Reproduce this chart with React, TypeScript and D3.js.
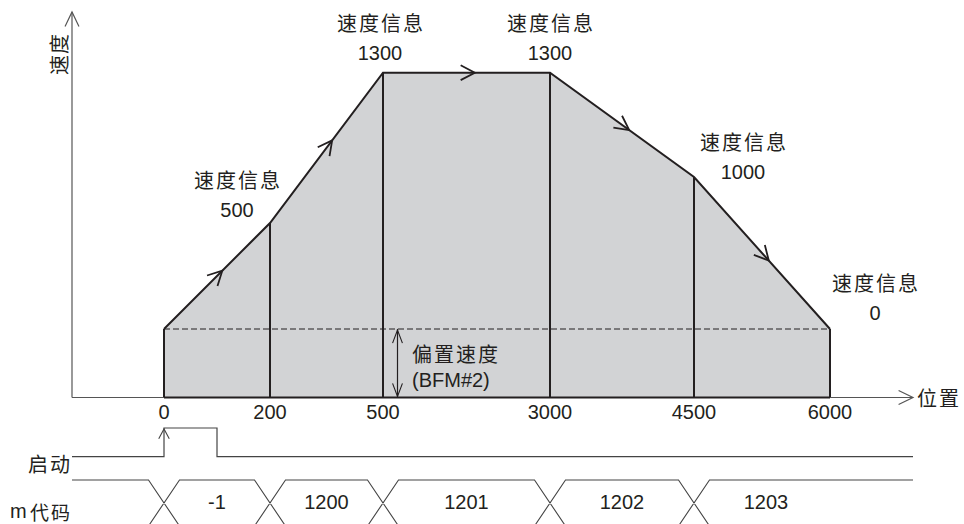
import React from "react";
import * as d3 from "d3";

// ---- data ----
const positions = [0, 200, 500, 3000, 4500, 6000];
const positionLabels = ["0", "200", "500", "3000", "4500", "6000"];
const speedValues = [0, 500, 1300, 1300, 1000, 0];
const speedLabelText = "速度信息";
const speedLabelIdx = [1, 2, 3, 4, 5];
const mCodes = ["-1", "1200", "1201", "1202", "1203"];
const startPulse = [0, 100]; // start pulse width (display)

// ---- layout (scales) ----
const W = 964, H = 524;
const x = d3.scaleLinear().domain(positions).range([164, 270, 383, 550, 694, 830]);
const y = d3.scaleLinear().domain([0, 500, 1000, 1300]).range([329, 223, 177, 72.7]);
const axisX0 = 72, axisY = 397.5, axisYTop = 12, axisXEnd = 913;
// label offsets [dx, dy of number line]
const labelOffsets: [number, number][] = [
  [-33, -13], [-3, 0], [0, 0], [49, -5], [45, -16],
];
const topLabelY = [22, 53];
const lineGap = 31;

const ink = "#231f20";
const cjk = "'Noto Sans CJK SC', 'Noto Sans', sans-serif";
const latin = "'Liberation Sans', Arial, sans-serif";
const numSize = 20;
const cjkSize = 20;
const cjkSpacing = 2;

function chevron(tx: number, ty: number, angle: number, len: number, half: number) {
  const a1 = angle + Math.PI - half, a2 = angle + Math.PI + half;
  return `M${tx + len * Math.cos(a1)},${ty + len * Math.sin(a1)}L${tx},${ty}L${tx + len * Math.cos(a2)},${ty + len * Math.sin(a2)}`;
}

export default function App() {
  const pts = positions.map((p, i) => [x(p), y(speedValues[i])] as [number, number]);
  const area = d3.area<[number, number]>().x(d => d[0]).y0(axisY).y1(d => d[1])(pts) || "";
  const line = d3.line()(pts) || "";
  const biasY = y(0);

  const segArrows = pts.slice(0, -1).map((p, i) => {
    const q = pts[i + 1];
    const t = 0.55;
    const tx = p[0] + (q[0] - p[0]) * t, ty = p[1] + (q[1] - p[1]) * t;
    const ang = Math.atan2(q[1] - p[1], q[0] - p[0]);
    return chevron(tx, ty, ang, 16, 0.48);
  });

  const biasX = 397.5;
  const timingY = 456.7, pulseTop = 428, busTop = 480, busBot = 526, xHalf = 15.5;
  const crossXs = positions.slice(0, 5).map(p => x(p));
  let busPath = `M${axisX0},${busTop}`;
  crossXs.forEach(cx => {
    busPath += `L${cx - xHalf},${busTop}L${cx + xHalf},${busBot}M${cx - xHalf},${busBot}L${cx + xHalf},${busTop}`;
  });
  busPath += `L${axisXEnd},${busTop}`;
  const pulseX1 = 217;

  const cjkText = (props: any, s: string, anchor: string = "middle", size: number = cjkSize) => (
    <text {...props} textAnchor={anchor} dominantBaseline="central" fontFamily={cjk} fontSize={size}
      letterSpacing={cjkSpacing} fill={ink}>{s}</text>
  );

  return (
    <svg width={W} height={H} style={{ position: "absolute", left: 0, top: 0, background: "#fff" }}>
      <path d={area} fill="#d2d3d5" stroke="none" />
      <line x1={x(0)} x2={x(6000)} y1={biasY} y2={biasY} stroke={ink} strokeWidth={1} strokeDasharray="6,3" />
      {pts.map((p, i) => (
        <line key={i} x1={p[0]} x2={p[0]} y1={p[1]} y2={axisY} stroke={ink} strokeWidth={2} />
      ))}
      <path d={line} fill="none" stroke={ink} strokeWidth={2} />
      {segArrows.map((d, i) => <path key={i} d={d} fill="none" stroke={ink} strokeWidth={1.8} />)}

      {/* axes */}
      <line x1={axisX0} x2={axisX0} y1={axisY} y2={axisYTop} stroke="#808080" strokeWidth={1.6} />
      <path d={chevron(axisX0, axisYTop, -Math.PI / 2, 16, 0.45)} fill="none" stroke="#555" strokeWidth={1.2} />
      <line x1={axisX0} x2={axisXEnd} y1={axisY} y2={axisY} stroke="#555" strokeWidth={1.2} />
      <line x1={x(0)} x2={x(6000)} y1={axisY} y2={axisY} stroke={ink} strokeWidth={2.2} />
      <path d={chevron(axisXEnd, axisY, 0, 16, 0.45)} fill="none" stroke="#555" strokeWidth={1.2} />
      <text x={58} y={54} transform="rotate(-90 58 54)" textAnchor="middle" dominantBaseline="central"
        fontFamily={cjk} fontSize={cjkSize} letterSpacing={1} fill={ink}>速度</text>
      {cjkText({ x: 917, y: axisY }, "位置", "start")}

      {positions.map((p, i) => (
        <text key={i} x={x(p)} y={412} textAnchor="middle" dominantBaseline="central"
          fontFamily={latin} fontSize={numSize} fill={ink}>{positionLabels[i]}</text>
      ))}

      {speedLabelIdx.map((idx, k) => {
        const [dx, dy] = labelOffsets[k];
        const cx = pts[idx][0] + dx;
        const isTop = speedValues[idx] === d3.max(speedValues);
        const y2 = isTop ? topLabelY[1] : pts[idx][1] + dy;
        const y1 = isTop ? topLabelY[0] : y2 - lineGap;
        return (
          <g key={k}>
            {cjkText({ x: cx + cjkSpacing / 2, y: y1 }, speedLabelText)}
            <text x={cx} y={y2} textAnchor="middle" dominantBaseline="central" fontFamily={latin} fontSize={numSize} fill={ink}>{String(speedValues[idx])}</text>
          </g>
        );
      })}

      {/* bias speed arrow */}
      <line x1={biasX} x2={biasX} y1={biasY} y2={axisY} stroke={ink} strokeWidth={1.2} />
      <path d={chevron(biasX, biasY + 1, -Math.PI / 2, 14, 0.36)} fill="none" stroke={ink} strokeWidth={1.1} />
      <path d={chevron(biasX, axisY - 1, Math.PI / 2, 14, 0.36)} fill="none" stroke={ink} strokeWidth={1.1} />
      {cjkText({ x: 412, y: 353 }, "偏置速度", "start")}
      <text x={412} y={380} dominantBaseline="central" fontFamily={latin} fontSize={numSize} fill={ink}>(BFM#2)</text>

      {/* start signal */}
      <path d={`M${axisX0},${timingY}L${x(startPulse[0])},${timingY}L${x(startPulse[0])},${pulseTop}L${pulseX1},${pulseTop}L${pulseX1},${timingY}L${axisXEnd},${timingY}`}
        fill="none" stroke="#444" strokeWidth={1.2} />
      <path d={chevron(x(0), pulseTop + 1, -Math.PI / 2, 11, 0.5)} fill="none" stroke="#444" strokeWidth={1.1} />
      {cjkText({ x: 72, y: 463 }, "启动", "end")}

      {/* m code bus */}
      <path d={busPath} fill="none" stroke="#444" strokeWidth={1.1} />
      {mCodes.map((c, i) => (
        <text key={i} x={(x(positions[i]) + x(positions[i + 1])) / 2 + (i === 4 ? 4 : 0)} y={502}
          textAnchor="middle" dominantBaseline="central" fontFamily={latin} fontSize={numSize} fill={ink}>{c}</text>
      ))}
      <text x={10} y={511} dominantBaseline="central" fontFamily={latin} fontSize={numSize} fill={ink}>m</text>
      {cjkText({ x: 72, y: 511 }, "代码", "end", 19)}
    </svg>
  );
}
